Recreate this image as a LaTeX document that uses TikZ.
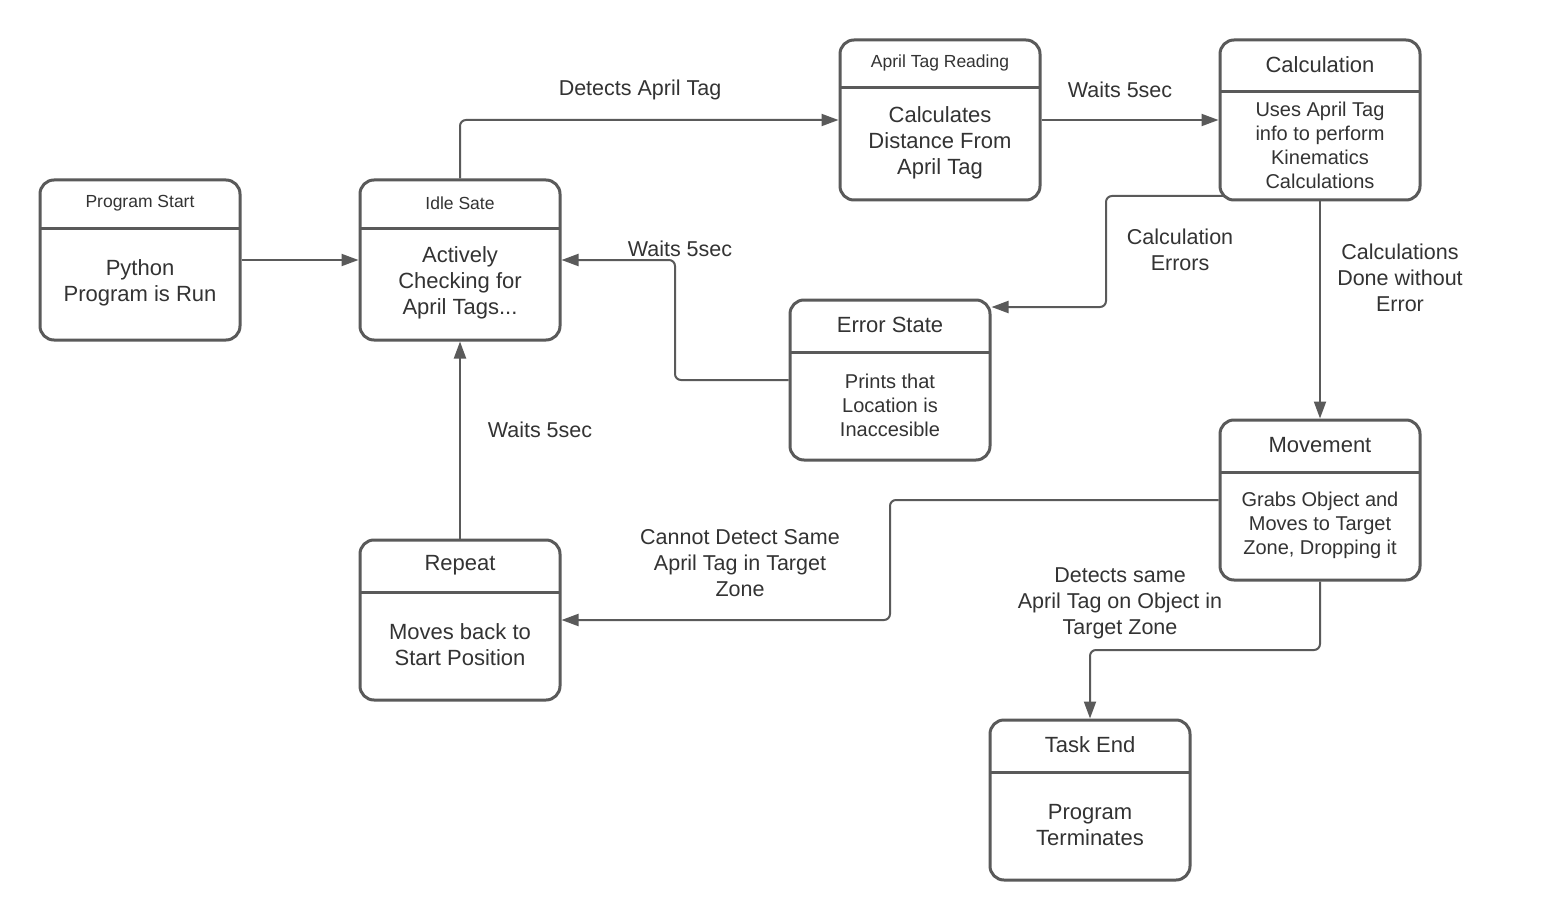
\documentclass[tikz,border=0pt]{standalone}
\usepackage{fontspec}
\setmainfont{Liberation Sans}
\usetikzlibrary{arrows.meta,calc}
\definecolor{lc}{RGB}{90,90,90}
\definecolor{tc}{RGB}{51,51,51}
\tikzset{
 sbox/.style={draw=lc, line width=3pt, rounded corners=14pt, minimum width=200pt, minimum height=160pt, inner sep=0pt},
 divider/.style={draw=lc, line width=3pt},
 arr/.style={draw=lc, line width=2pt, rounded corners=6pt, -{Triangle[length=17pt,width=12pt]}},
 txt/.style={text=tc, align=center, inner sep=0pt},
 hsmall/.style={txt, font=\fontsize{17.5}{21}\selectfont},
 hlarge/.style={txt, font=\fontsize{22}{26}\selectfont},
 bbig/.style={txt, font=\fontsize{22}{26}\selectfont},
 bmed/.style={txt, font=\fontsize{20}{24}\selectfont},
 lbl/.style={txt, font=\fontsize{21.5}{26}\selectfont},
}
% name, left x, top y, header height, header style, header text, body style, body text
\newcommand\stbox[8]{%
 \node[sbox] (#1) at ({#2+100},{#3+80}) {};
 \draw[divider] ({#2},{#3+#4}) -- ({#2+200},{#3+#4});
 \node[#5] (#1-h) at ({#2+100},{#3+#4/2-1}) {#6};
 \node[#7] (#1-b) at ({#2+100},{#3+#4+(160-#4)/2-1}) {#8};
}
\begin{document}
\begin{tikzpicture}[x=1pt,y=-1pt]
\useasboundingbox[fill=white] (0,0) rectangle (1560,920);

\stbox{ps}{40}{180}{48}{hsmall}{Program Start}{bbig}{Python\\Program is Run}
\stbox{idle}{360}{180}{48}{hsmall}{Idle Sate}{bbig}{Actively\\Checking for\\April Tags...}
\stbox{atr}{840}{40}{48}{hsmall}{April Tag Reading}{bbig}{Calculates\\Distance From\\April Tag}
\stbox{calc}{1220}{40}{52}{hlarge}{Calculation}{bmed}{Uses April Tag\\info to perform\\Kinematics\\Calculations}
\stbox{err}{790}{300}{52}{hlarge}{Error State}{bmed}{Prints that\\Location is\\Inaccesible}
\stbox{mov}{1220}{420}{52}{hlarge}{Movement}{bmed}{Grabs Object and\\Moves to Target\\Zone, Dropping it}
\stbox{rep}{360}{540}{52}{hlarge}{Repeat}{bbig}{Moves back to\\Start Position}
\stbox{te}{990}{720}{52}{hlarge}{Task End}{bbig}{Program\\Terminates}

% connectors
\draw[arr] (ps.east) -- (idle.west);
\draw[arr] (idle.north) |- (atr.west);
\draw[arr] (atr.east) -- (calc.west);
\coordinate (errin) at ($(err.east)+(0,-73)$);
\coordinate (calcout) at ($(calc.west)+(6,76)$);
\draw[arr] (calcout) -| (1106,307) -- (errin);
\draw[arr] (calc.south) -- (mov.north);
\draw[arr] (err.west) -| (675,260) -- (idle.east);
\draw[arr] (rep.north) -- (idle.south);
\draw[arr] (mov.west) -| (890,620) -- (rep.east);
\draw[arr] (mov.south) |- (1090,650) -- (te.north);

% labels
\node[lbl] (l1) at (640,89.5) {Detects April Tag};
\node[lbl] (l2) at (1120,89.5) {Waits 5sec};
\node[lbl] (l3) at (1180,250) {Calculation\\Errors};
\node[lbl] (l4) at (1400,278) {Calculations\\Done without\\Error};
\node[lbl] (l5) at (680,248.5) {Waits 5sec};
\node[lbl] (l6) at (540,429.5) {Waits 5sec};
\node[lbl] (l7) at (740,563) {Cannot Detect Same\\April Tag in Target\\Zone};
\node[lbl] (l8) at (1120,603.5) {Detects same\\April Tag on Object in\\Target Zone};
\end{tikzpicture}
\end{document}
